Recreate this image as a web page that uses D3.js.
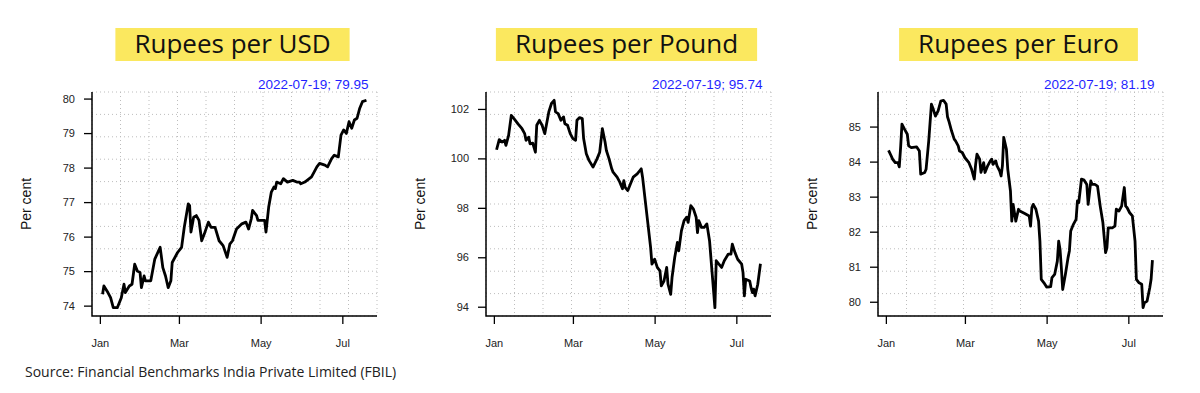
<!DOCTYPE html>
<html>
<head>
<meta charset="utf-8">
<script src="https://cdn.jsdelivr.net/npm/d3@7"></script>
<style>
  body { margin: 0; background: #fff; }
  svg { display: block; }
  .tick text { font-family: "Liberation Sans", Arial, sans-serif; }
</style>
</head>
<body>
<svg id="chart" width="1200" height="393"></svg>
<script>
// ---- data (FBIL reference rates, 2022) ----
var usdDates = ["01-03","01-04","01-07","01-09","01-11","01-14","01-17","01-19","01-20","01-23","01-25","01-27","01-29","01-31",
  "02-01","02-03","02-04","02-08","02-11","02-15","02-17","02-19","02-21","02-23","02-24","02-28",
  "03-03","03-05","03-08","03-09","03-10","03-12","03-14","03-16","03-18","03-20","03-23","03-25","03-28","03-31",
  "04-03","04-06","04-08","04-10","04-13","04-17","04-20","04-22","04-24","04-25","04-28","04-29",
  "05-04","05-05","05-07","05-09","05-11","05-12","05-13","05-16","05-18","05-21","05-25","05-28","05-30","05-31",
  "06-03","06-08","06-12","06-14","06-18","06-20","06-23","06-25","06-28","06-30",
  "07-02","07-04","07-06","07-08","07-10","07-12","07-14","07-16","07-19"];
var usdValues = [74.33,74.57,74.38,74.23,73.94,73.94,74.23,74.62,74.38,74.57,74.62,75.20,75.00,74.96,
  74.52,74.86,74.72,74.72,75.35,75.69,75.10,74.86,74.52,74.72,75.25,75.54,
  75.69,76.27,76.95,76.90,76.13,76.56,76.61,76.47,75.88,76.08,76.42,76.27,76.27,75.88,
  75.74,75.40,75.78,75.88,76.22,76.37,76.42,76.22,76.51,76.76,76.61,76.47,
  76.47,76.13,76.85,77.29,77.44,77.39,77.58,77.53,77.68,77.58,77.63,77.58,77.58,77.53,
  77.58,77.73,78.02,78.12,78.07,78.02,78.26,78.36,78.31,78.94,
  79.09,78.99,79.33,79.14,79.38,79.43,79.72,79.91,79.95];

var gbpDates = ["01-03","01-05","01-07","01-09","01-10","01-12","01-14","01-16","01-19","01-22","01-24","01-25","01-27","01-28","01-30",
  "02-01","02-02","02-04","02-06","02-08","02-11","02-13","02-15","02-16","02-18","02-20","02-22","02-23","02-25","02-27",
  "03-01","03-03","03-04","03-06","03-08","03-09","03-11","03-13","03-16","03-19","03-21","03-23","03-25","03-26","03-28","03-30","03-31",
  "04-03","04-05","04-07","04-08","04-09","04-11","04-13","04-15","04-18","04-20","04-21","04-22","04-24","04-26","04-28","04-29",
  "05-01","05-03","05-05","05-06","05-08","05-10","05-11","05-13","05-14","05-16","05-18","05-19","05-21","05-23","05-25","05-26","05-28","05-30",
  "06-01","06-02","06-03","06-05","06-07","06-09","06-11","06-13","06-15","06-16","06-18","06-20","06-22","06-25","06-27","06-28","06-30",
  "07-02","07-05","07-06","07-07","07-08","07-11","07-12","07-13","07-14","07-15","07-17","07-19"];
var gbpValues = [100.35,100.76,100.66,100.73,100.53,100.93,101.74,101.61,101.40,101.20,101.00,100.73,100.86,100.59,100.62,
  100.25,101.34,101.54,101.34,101.00,101.88,102.22,102.35,101.88,101.81,101.54,101.68,101.40,101.34,101.00,
  100.80,100.73,101.54,101.65,101.61,100.80,100.19,99.92,99.65,99.98,100.25,101.20,100.66,100.32,99.98,99.58,99.44,
  99.24,99.04,98.77,99.10,98.83,98.70,98.97,99.24,99.37,99.51,99.58,99.24,98.29,97.35,96.40,95.72,
  95.92,95.59,95.45,94.84,95.04,95.59,94.91,94.50,95.18,95.99,96.60,96.26,97.07,97.48,97.62,97.41,98.09,97.95,
  97.62,97.00,97.48,97.21,97.21,97.35,96.67,95.32,93.96,95.86,95.72,95.59,95.86,96.13,96.13,96.53,96.19,
  95.92,95.72,95.38,94.44,95.11,95.04,94.77,94.57,94.71,94.44,94.91,95.74];

var eurDates = ["01-03","01-05","01-06","01-08","01-10","01-11","01-12","01-13","01-15","01-17","01-18","01-20","01-24","01-26","01-27","01-30","01-31",
  "02-02","02-04","02-05","02-07","02-09","02-11","02-13","02-15","02-16","02-17","02-19","02-21","02-22","02-24","02-25","02-27",
  "03-01","03-04","03-06","03-08","03-09","03-10","03-12","03-13","03-15","03-16","03-18","03-20","03-21","03-22","03-24","03-25","03-27","03-28","03-29","03-30",
  "04-01","04-02","04-04","04-05","04-06","04-08","04-10","04-11","04-15","04-18","04-19","04-20","04-21","04-23","04-25","04-26","04-27","04-29",
  "05-01","05-04","05-05","05-07","05-09","05-10","05-11","05-12","05-13","05-15","05-17","05-18","05-19","05-21","05-23","05-24","05-25","05-27","05-29","05-31",
  "06-01","06-03","06-04","06-06","06-08","06-10","06-12","06-14","06-15","06-16","06-19","06-21","06-22","06-24","06-26","06-28","06-29","06-30",
  "07-02","07-04","07-06","07-07","07-09","07-11","07-12","07-13","07-15","07-17","07-18","07-19"];
var eurValues = [84.32,84.16,84.07,83.97,83.97,83.85,84.40,85.07,84.92,84.78,84.45,84.40,84.42,84.30,83.64,83.69,83.78,
  84.59,85.64,85.54,85.30,85.45,85.73,85.75,85.64,85.28,85.16,84.88,84.64,84.59,84.45,84.30,84.26,
  84.11,83.97,83.78,83.50,83.92,84.21,84.07,83.69,83.97,83.69,83.88,84.02,84.07,83.92,84.02,83.88,83.73,83.59,83.88,84.69,
  84.35,83.78,83.16,82.30,82.78,82.30,82.64,82.59,82.51,82.45,82.16,82.69,82.78,82.64,82.30,81.73,80.64,80.54,
  80.42,80.43,80.69,80.78,81.16,81.73,81.50,80.97,80.35,80.78,81.26,81.45,82.02,82.21,82.35,82.88,82.83,83.50,83.47,83.35,
  82.78,83.45,83.35,83.35,83.30,82.73,82.26,81.40,81.54,82.11,82.11,82.16,82.64,82.59,82.73,83.26,82.73,82.69,
  82.54,82.45,81.73,80.64,80.54,80.50,79.83,79.97,80.02,80.40,80.64,81.19];

var titles = ["Rupees per USD", "Rupees per Pound", "Rupees per Euro"];
var lastLabels = ["2022-07-19; 79.95", "2022-07-19; 95.74", "2022-07-19; 81.19"];
var yTicks = [[74, 75, 76, 77, 78, 79, 80], [94, 96, 98, 100, 102], [80, 81, 82, 83, 84, 85]];
var monthTicks = ["2022-01-01", "2022-03-01", "2022-05-01", "2022-07-01"];
var yLabel = "Per cent";
var source = "Source: Financial Benchmarks India Private Limited (FBIL)";

var parse = d3.timeParse("%Y-%m-%d");
function series(dates, values) {
  return dates.map(function(d, i) { return { date: parse("2022-" + d), value: values[i] }; });
}
var panels = [
  series(usdDates, usdValues),
  series(gbpDates, gbpValues),
  series(eurDates, eurValues)
];

// R-style axis range: data extent stretched by 4% on both sides
function padded(ext) {
  var p = (ext[1] - ext[0]) * 0.04;
  return [ext[0] - p, ext[1] + p];
}

var svg = d3.select("#chart");
var lefts = [92, 486, 878];
var plotW = 285, plotTop = 92, plotBottom = 316;

panels.forEach(function(data, i) {
  var g = svg.append("g").attr("transform", "translate(" + lefts[i] + ",0)");

  var xd = padded(d3.extent(data, function(d) { return +d.date; }));
  var x = d3.scaleTime().domain([new Date(xd[0]), new Date(xd[1])]).range([0, plotW]);
  var y = d3.scaleLinear()
      .domain(padded(d3.extent(data, function(d) { return d.value; })))
      .range([plotBottom, plotTop]);

  // dotted grid, 10 x 10 cells
  var grid = g.append("g").attr("class", "grid")
      .attr("stroke", "#bdbdbd").attr("stroke-dasharray", "1,3");
  d3.range(11).forEach(function(k) {
    var gx = k * plotW / 10;
    var gy = plotTop + k * (plotBottom - plotTop) / 10;
    grid.append("line").attr("x1", gx).attr("x2", gx).attr("y1", plotTop).attr("y2", plotBottom);
    grid.append("line").attr("x1", 0).attr("x2", plotW).attr("y1", gy).attr("y2", gy);
  });

  g.append("path")
      .datum(data)
      .attr("fill", "none")
      .attr("stroke", "#000")
      .attr("stroke-width", 2.8)
      .attr("stroke-linejoin", "round")
      .attr("d", d3.line()
        .x(function(d) { return x(d.date); })
        .y(function(d) { return y(d.value); }));

  // L-shaped box
  g.append("path")
      .attr("fill", "none").attr("stroke", "#000").attr("stroke-width", 1.5)
      .attr("d", "M0," + plotTop + "V" + plotBottom + "H" + plotW);

  var ya = g.append("g")
      .call(d3.axisLeft(y).tickValues(yTicks[i]).tickFormat(d3.format("d"))
        .tickSize(8).tickPadding(9));
  ya.select(".domain").remove();
  ya.selectAll(".tick line").attr("stroke-width", 1.3);
  ya.selectAll(".tick text").attr("font-size", 11).attr("fill", "#222");

  var xa = g.append("g")
      .attr("transform", "translate(0," + plotBottom + ")")
      .call(d3.axisBottom(x).tickValues(monthTicks.map(parse))
        .tickFormat(d3.timeFormat("%b")).tickSize(8).tickPadding(15));
  xa.select(".domain").remove();
  xa.selectAll(".tick line").attr("stroke-width", 1.3);
  xa.selectAll(".tick text").attr("font-size", 11).attr("fill", "#222");

  g.append("text")
      .attr("transform", "translate(-61," + ((plotTop + plotBottom) / 2) + ") rotate(-90)")
      .attr("text-anchor", "middle")
      .attr("font-family", "Liberation Sans, Arial, sans-serif")
      .attr("font-size", 14)
      .attr("fill", "#111")
      .text(yLabel);

  g.append("text")
      .attr("x", x(data[data.length - 1].date) + 2)
      .attr("y", 89)
      .attr("text-anchor", "end")
      .attr("font-family", "Liberation Sans, Arial, sans-serif")
      .attr("font-size", 13.5)
      .attr("fill", "#1f1fff")
      .text(lastLabels[i]);

  // yellow title label
  var tg = g.append("g");
  var tt = tg.append("text")
      .attr("x", plotW / 2 - 2)
      .attr("y", 53)
      .attr("text-anchor", "middle")
      .attr("font-family", "Open Sans, sans-serif")
      .attr("font-size", 26)
      .attr("fill", "#111")
      .text(titles[i]);
  var bb = tt.node().getBBox();
  tg.insert("rect", "text")
      .attr("x", bb.x - 19).attr("width", bb.width + 38)
      .attr("y", 28).attr("height", 33)
      .attr("fill", "#fbe85f");
});

svg.append("text")
    .attr("x", 25)
    .attr("y", 377)
    .attr("font-family", "Open Sans, sans-serif")
    .attr("font-size", 14)
    .attr("fill", "#222")
    .text(source);
</script>
</body>
</html>
